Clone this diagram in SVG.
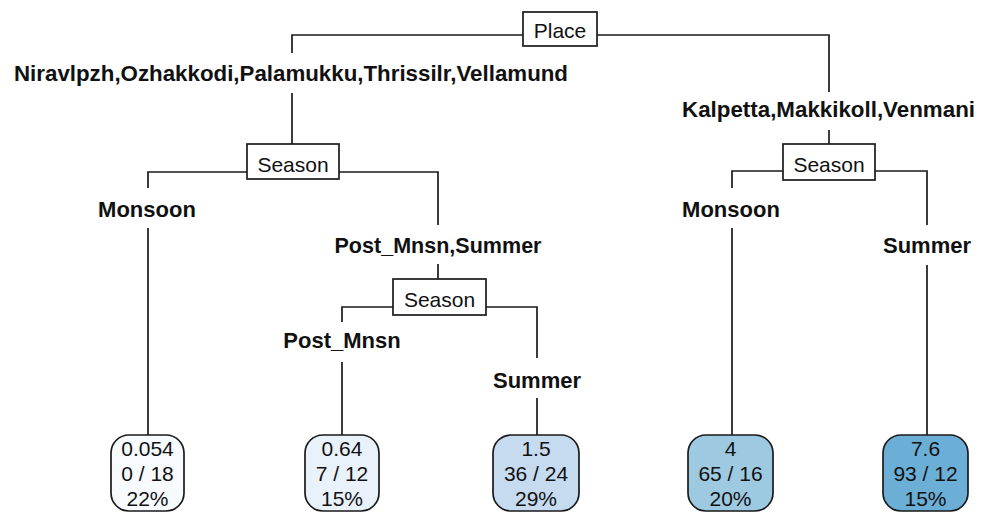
<svg xmlns="http://www.w3.org/2000/svg" width="991" height="513" viewBox="0 0 991 513">
<style>
.bg{fill:#ffffff}
.ln{stroke:#1a1a1a;stroke-width:1.7;fill:none}
.box{fill:#ffffff;stroke:#1a1a1a;stroke-width:1.7}
.leaf{stroke:#1a1a1a;stroke-width:1.7}
.nt{font-family:"Liberation Sans",Arial,sans-serif;font-size:21px;fill:#111;text-anchor:middle}
.lb{font-family:"Liberation Sans",Arial,sans-serif;font-size:22px;font-weight:bold;fill:#111;text-anchor:middle}
</style>
<rect class="bg" x="0" y="0" width="991" height="513"/>
<g id="connectors">
<path class="ln" d="M292,53 V35 H523 M597,35 H829 V92"/>
<path class="ln" d="M292,93 V144"/>
<path class="ln" d="M829,130 V144"/>
<path class="ln" d="M247,172 H148 V188 M148,228 V435"/>
<path class="ln" d="M339,172 H438 V225 M438,264 V279"/>
<path class="ln" d="M393,307 H342 V322 M342,362 V435"/>
<path class="ln" d="M486,307 H537 V358 M537,398 V435"/>
<path class="ln" d="M783,171 H732 V188 M732,228 V435"/>
<path class="ln" d="M875,171 H927 V225 M927,265 V435"/>
</g>
<g id="edge-labels">
<text class="lb" x="291" y="81" textLength="554" lengthAdjust="spacingAndGlyphs">Niravlpzh,Ozhakkodi,Palamukku,Thrissilr,Vellamund</text>
<text class="lb" x="828.5" y="117" textLength="293" lengthAdjust="spacingAndGlyphs">Kalpetta,Makkikoll,Venmani</text>
<text class="lb" x="147" y="217">Monsoon</text>
<text class="lb" x="438" y="253" textLength="207" lengthAdjust="spacingAndGlyphs">Post_Mnsn,Summer</text>
<text class="lb" x="342" y="348">Post_Mnsn</text>
<text class="lb" x="537" y="388">Summer</text>
<text class="lb" x="731" y="217">Monsoon</text>
<text class="lb" x="927" y="253">Summer</text>
</g>
<g id="node-place">
<rect class="box" x="523" y="12" width="74" height="34"/>
<text class="nt" x="560" y="38">Place</text>
</g>
<g id="node-season-left">
<rect class="box" x="247" y="144" width="92" height="35"/>
<text class="nt" x="293" y="172">Season</text>
</g>
<g id="node-season-mid">
<rect class="box" x="393" y="279" width="93" height="36"/>
<text class="nt" x="439.5" y="307">Season</text>
</g>
<g id="node-season-right">
<rect class="box" x="783" y="144" width="92" height="36"/>
<text class="nt" x="829" y="172">Season</text>
</g>
<g id="leaf-1">
<rect class="leaf" x="111" y="435" width="73" height="76" rx="18" fill="#F7FBFF"/>
<text class="nt" x="147.5" y="456">0.054</text>
<text class="nt" x="147.5" y="481">0 / 18</text>
<text class="nt" x="147.5" y="506">22%</text>
</g>
<g id="leaf-2">
<rect class="leaf" x="305" y="435" width="74" height="76" rx="18" fill="#E9F2FB"/>
<text class="nt" x="342" y="456">0.64</text>
<text class="nt" x="342" y="481">7 / 12</text>
<text class="nt" x="342" y="506">15%</text>
</g>
<g id="leaf-3">
<rect class="leaf" x="493" y="435" width="86" height="76" rx="18" fill="#C6DBEF"/>
<text class="nt" x="536" y="456">1.5</text>
<text class="nt" x="536" y="481">36 / 24</text>
<text class="nt" x="536" y="506">29%</text>
</g>
<g id="leaf-4">
<rect class="leaf" x="688" y="435" width="85" height="76" rx="18" fill="#9ECAE1"/>
<text class="nt" x="730.5" y="456">4</text>
<text class="nt" x="730.5" y="481">65 / 16</text>
<text class="nt" x="730.5" y="506">20%</text>
</g>
<g id="leaf-5">
<rect class="leaf" x="883" y="435" width="85" height="76" rx="18" fill="#6BAED6"/>
<text class="nt" x="925.5" y="456">7.6</text>
<text class="nt" x="925.5" y="481">93 / 12</text>
<text class="nt" x="925.5" y="506">15%</text>
</g>
</svg>
